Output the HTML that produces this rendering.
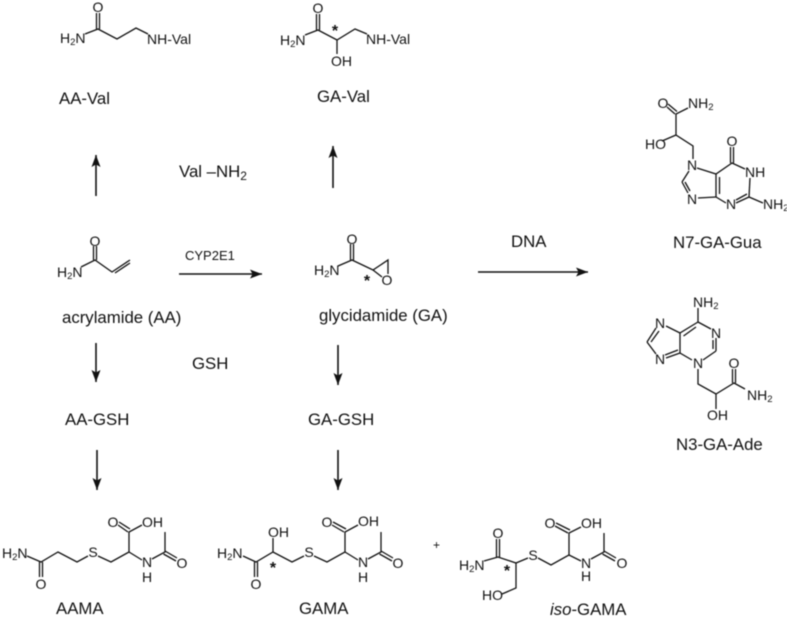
<!DOCTYPE html>
<html><head><meta charset="utf-8"><style>
html,body{margin:0;padding:0;background:#fff}
svg{display:block;filter:blur(.45px)}
text{font-family:"Liberation Sans",sans-serif;fill:#111}
.a{font-size:14px}
.m{font-size:14px;text-anchor:middle}
.l{font-size:16.800px}
.s{font-size:9.500px}
.t{font-size:16px;font-weight:bold;text-anchor:middle}
line,polyline{stroke:#111;stroke-width:1.3;fill:none}
.k line{stroke-width:1.6}
</style></head><body>
<svg width="787" height="617" viewBox="0 0 787 617" xmlns="http://www.w3.org/2000/svg">
<defs><marker id="h" markerUnits="userSpaceOnUse" markerWidth="13" markerHeight="10" refX="12" refY="5" orient="auto"><path d="M0 0.500L12 5L0 9.500L2.500 5Z" fill="#111"/></marker></defs>

<!-- arrows -->
<g class="k">
<line x1="96" y1="196" x2="96" y2="155" marker-end="url(#h)"/>
<line x1="333" y1="188" x2="333" y2="146" marker-end="url(#h)"/>
<line x1="179" y1="274" x2="262" y2="274" marker-end="url(#h)"/>
<line x1="478" y1="272" x2="588" y2="272" marker-end="url(#h)"/>
<line x1="96" y1="343" x2="96" y2="382" marker-end="url(#h)"/>
<line x1="97" y1="450" x2="97" y2="490" marker-end="url(#h)"/>
<line x1="338" y1="345" x2="338" y2="385" marker-end="url(#h)"/>
<line x1="338" y1="450" x2="338" y2="490" marker-end="url(#h)"/>
</g>

<!-- labels -->
<text class="l" x="59" y="104">AA-Val</text>
<text class="l" x="317" y="102">GA-Val</text>
<text class="l" x="179" y="177">Val –NH<tspan font-size="12" dy="3">2</tspan></text>
<text x="185" y="260" style="font-size:13px">CYP2E1</text>
<text class="l" x="511" y="247">DNA</text>
<text class="l" x="62" y="323">acrylamide (AA)</text>
<text class="l" x="319" y="321">glycidamide (GA)</text>
<text class="l" x="192" y="369">GSH</text>
<text class="l" x="65" y="425">AA-GSH</text>
<text class="l" x="308" y="425">GA-GSH</text>
<text class="l" x="673" y="248">N7-GA-Gua</text>
<text class="l" x="676" y="450">N3-GA-Ade</text>
<text class="l" x="56" y="614">AAMA</text>
<text class="l" x="299" y="614">GAMA</text>
<text class="l" x="550" y="615"><tspan font-style="italic">iso</tspan>-GAMA</text>
<text x="433" y="549" style="font-size:12px">+</text>

<!-- AA-Val -->
<g>
<polyline points="85,34 98,29 117,39 136,28 148,34"/>
<line x1="96.500" y1="29" x2="96.500" y2="13"/><line x1="99.500" y1="29" x2="99.500" y2="13"/>
<text class="m" x="98" y="12">O</text>
<text class="a" x="60" y="43">H<tspan class="s" dy="2">2</tspan><tspan dy="-2">N</tspan></text>
<text class="a" x="147" y="44">NH-Val</text>
</g>

<!-- GA-Val -->
<g>
<polyline points="305,35 318,30 337,40 355,29 367,34"/>
<line x1="316.500" y1="30" x2="316.500" y2="14"/><line x1="319.500" y1="30" x2="319.500" y2="14"/>
<line x1="337" y1="40" x2="337" y2="54"/>
<text class="m" x="318" y="13">O</text>
<text class="a" x="280" y="45">H<tspan class="s" dy="2">2</tspan><tspan dy="-2">N</tspan></text>
<text class="a" x="366" y="44">NH-Val</text>
<text class="a" x="331" y="66">OH</text>
<text class="t" x="335" y="36">*</text>
</g>

<!-- acrylamide -->
<g>
<polyline points="81,267 95,260 112,272 130,260"/>
<line x1="115" y1="273" x2="130" y2="263"/>
<line x1="93.500" y1="260" x2="93.500" y2="246"/><line x1="96.500" y1="260" x2="96.500" y2="246"/>
<text class="m" x="95" y="246">O</text>
<text class="a" x="57" y="277">H<tspan class="s" dy="2">2</tspan><tspan dy="-2">N</tspan></text>
</g>

<!-- glycidamide -->
<g>
<polyline points="338,266 352,260 373,270 388,260 388,274"/>
<line x1="373" y1="270" x2="382" y2="277"/>
<line x1="350.500" y1="260" x2="350.500" y2="244"/><line x1="353.500" y1="260" x2="353.500" y2="244"/>
<text class="m" x="352" y="244">O</text>
<text class="a" x="314" y="275">H<tspan class="s" dy="2">2</tspan><tspan dy="-2">N</tspan></text>
<text class="m" x="387" y="285">O</text>
<text class="t" x="367" y="286">*</text>
</g>

<!-- N7-GA-Gua -->
<g>
<line x1="668" y1="104" x2="677" y2="111.500"/>
<line x1="667" y1="107" x2="675" y2="114"/>
<polyline points="688,108 676,114 676,135 693,146 693,159"/>
<line x1="662" y1="141" x2="676" y2="135"/>
<polyline points="697,168 716,174 732,163 745,169"/>
<line x1="730.500" y1="163" x2="730.500" y2="147"/>
<line x1="733.500" y1="163" x2="733.500" y2="147"/>
<line x1="750" y1="178" x2="749" y2="197"/>
<line x1="749" y1="197" x2="736" y2="203"/>
<line x1="747" y1="194" x2="736" y2="200"/>
<line x1="749" y1="197" x2="763" y2="203"/>
<line x1="726" y1="203" x2="716" y2="197"/>
<line x1="716" y1="174" x2="716" y2="197"/>
<line x1="719.500" y1="177" x2="719.500" y2="194"/>
<line x1="716" y1="197" x2="698" y2="198"/>
<line x1="689" y1="171" x2="682" y2="182"/>
<line x1="682" y1="182" x2="688" y2="193"/>
<line x1="685" y1="182" x2="690" y2="191"/>
<text class="m" x="663" y="108">O</text>
<text class="a" x="688" y="108">NH<tspan class="s" dy="2">2</tspan></text>
<text class="a" x="645" y="149">HO</text>
<text class="m" x="692" y="170">N</text>
<text class="m" x="732" y="146">O</text>
<text class="a" x="745" y="177">NH</text>
<text class="m" x="692" y="204">N</text>
<text class="m" x="731" y="209">N</text>
<text class="a" x="763" y="209">NH<tspan class="s" dy="2">2</tspan></text>
</g>

<!-- N3-GA-Ade -->
<g>
<line x1="698" y1="322" x2="698" y2="308"/>
<polyline points="698,322 680,333 680,353 692,360"/>
<line x1="683.500" y1="336" x2="696" y2="327"/>
<line x1="698" y1="322" x2="711" y2="329"/>
<line x1="716" y1="338" x2="716" y2="351"/>
<line x1="713" y1="340" x2="713" y2="349"/>
<line x1="716" y1="351" x2="703" y2="360"/>
<line x1="680" y1="333" x2="666" y2="326"/>
<line x1="656" y1="328" x2="647" y2="342"/>
<line x1="659" y1="331" x2="651" y2="342"/>
<line x1="647" y1="342" x2="656" y2="354"/>
<line x1="666" y1="358" x2="680" y2="353"/>
<line x1="665" y1="355" x2="678" y2="350"/>
<polyline points="698,369 698,384 716,394 734,383 745,389"/>
<line x1="716" y1="394" x2="716" y2="409"/>
<line x1="732.500" y1="383" x2="732.500" y2="369"/><line x1="735.500" y1="383" x2="735.500" y2="369"/>
<text class="a" x="693" y="307">NH<tspan class="s" dy="2">2</tspan></text>
<text class="m" x="716" y="338">N</text>
<text class="m" x="660" y="328">N</text>
<text class="m" x="660" y="364">N</text>
<text class="m" x="698" y="368">N</text>
<text class="m" x="734" y="368">O</text>
<text class="a" x="747" y="400">NH<tspan class="s" dy="2">2</tspan></text>
<text class="a" x="707" y="420">OH</text>
</g>

<!-- AAMA -->
<g>
<polyline points="27,556 41,562 58,552 77,562 88,556"/>
<line x1="39.500" y1="562" x2="39.500" y2="577"/><line x1="42.500" y1="562" x2="42.500" y2="577"/>
<polyline points="98,556 111,562 129,552 129,532 142,525"/>
<line x1="129" y1="552" x2="142" y2="560"/>
<line x1="119" y1="522" x2="130" y2="529"/><line x1="118" y1="525" x2="128" y2="532"/>
<polyline points="152,559 165,552 165,532"/>
<line x1="165" y1="551" x2="177" y2="558"/><line x1="163.500" y1="554" x2="176" y2="561"/>
<text class="a" x="2" y="558">H<tspan class="s" dy="2">2</tspan><tspan dy="-2">N</tspan></text>
<text class="m" x="41" y="589">O</text>
<text class="m" x="93" y="557">S</text>
<text class="m" x="113" y="527">O</text>
<text class="a" x="142" y="527">OH</text>
<text class="m" x="147" y="567">N</text>
<text class="m" x="147" y="582">H</text>
<text class="m" x="182" y="568">O</text>
</g>

<!-- GAMA -->
<g>
<polyline points="243,556 256,562 273,552 292,562 304,556"/>
<line x1="254.500" y1="562" x2="254.500" y2="577"/><line x1="257.500" y1="562" x2="257.500" y2="577"/>
<line x1="273" y1="552" x2="273" y2="538"/>
<polyline points="314,556 327,562 345,552 345,532 358,525"/>
<line x1="345" y1="552" x2="358" y2="560"/>
<line x1="333" y1="522" x2="346" y2="529"/><line x1="332" y1="525" x2="344" y2="532"/>
<polyline points="368,559 381,552 381,532"/>
<line x1="381" y1="551" x2="393" y2="558"/><line x1="379.500" y1="554" x2="392" y2="561"/>
<text class="a" x="217" y="558">H<tspan class="s" dy="2">2</tspan><tspan dy="-2">N</tspan></text>
<text class="m" x="256" y="589">O</text>
<text class="a" x="268" y="537">OH</text>
<text class="t" x="273" y="573">*</text>
<text class="m" x="309" y="557">S</text>
<text class="m" x="327" y="527">O</text>
<text class="a" x="358" y="526">OH</text>
<text class="m" x="363" y="567">N</text>
<text class="m" x="363" y="582">H</text>
<text class="m" x="398" y="568">O</text>
</g>

<!-- iso-GAMA -->
<g>
<polyline points="484,561 498,557 516,563 528,558"/>
<line x1="496.500" y1="557" x2="496.500" y2="539"/><line x1="499.500" y1="557" x2="499.500" y2="539"/>
<polyline points="516,563 516,588 502,594"/>
<polyline points="538,558 551,565 569,555 569,533 581,527"/>
<line x1="569" y1="555" x2="581" y2="561"/>
<line x1="556" y1="523" x2="570" y2="530"/><line x1="555" y1="526" x2="568" y2="533"/>
<polyline points="591,559 604,552 604,533"/>
<line x1="604" y1="551" x2="616" y2="558"/><line x1="602.500" y1="554" x2="615" y2="561"/>
<text class="a" x="459" y="570">H<tspan class="s" dy="2">2</tspan><tspan dy="-2">N</tspan></text>
<text class="m" x="498" y="538">O</text>
<text class="t" x="507" y="576">*</text>
<text class="m" x="533" y="560">S</text>
<text class="m" x="550" y="528">O</text>
<text class="a" x="581" y="528">OH</text>
<text class="m" x="586" y="568">N</text>
<text class="m" x="586" y="581">H</text>
<text class="m" x="622" y="568">O</text>
<text class="a" x="482" y="600">HO</text>
</g>
</svg>
</body></html>
